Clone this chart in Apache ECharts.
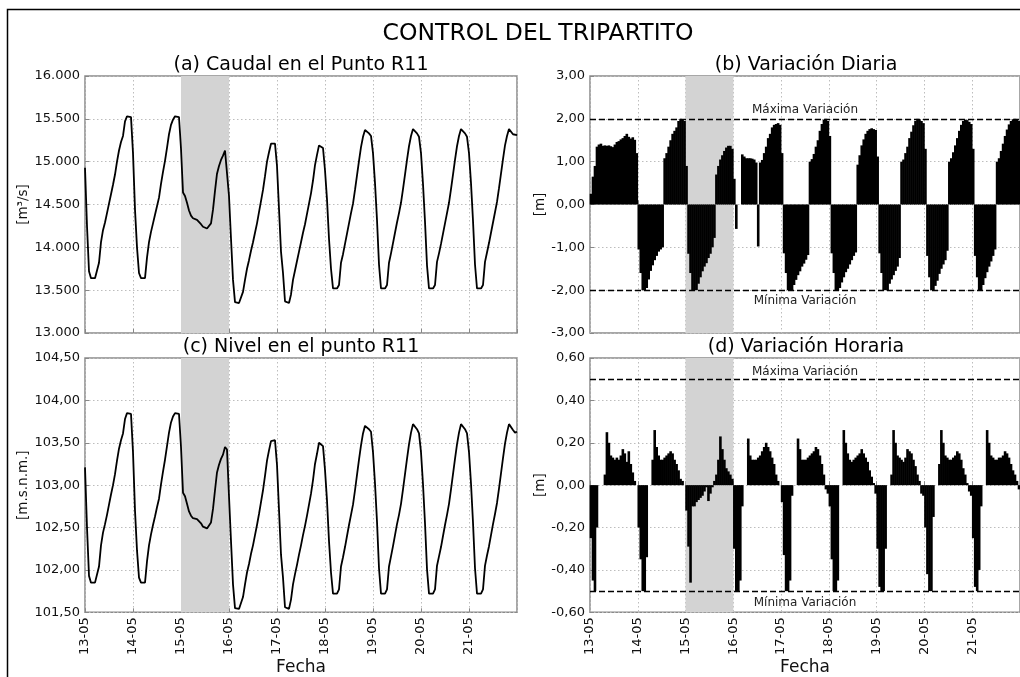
<!DOCTYPE html>
<html><head><meta charset="utf-8">
<script src="https://cdn.jsdelivr.net/npm/echarts@6/dist/echarts.min.js"></script>
<style>html,body{margin:0;padding:0;background:#fff}#c{width:1020px;height:677px}</style>
</head><body><div id="c"></div>
<script>
// ---- data (hourly, from 13-05 00:00) ----
const dayLabels = ['13-05','14-05','15-05','16-05','17-05','18-05','19-05','20-05','21-05'];
const mainTitle = 'CONTROL DEL TRIPARTITO';
const panelTitles = ['(a) Caudal en el Punto R11','(b) Variación Diaria','(c) Nivel en el punto R11','(d) Variación Horaria'];
const shadedDays = [48, 72];

const caudal = [
14930,14250,13720,13640,13640,13640,13640,13820,14060,14200,14290,14400,14510,14620,14730,14850,15000,15130,15230,15300,15470,15530,15530,15520,
15100,14440,14000,13700,13640,13640,13640,13880,14060,14180,14280,14380,14480,14580,14740,14880,15010,15160,15320,15430,15490,15530,15530,15520,
15150,14640,14600,14520,14430,14370,14340,14320,14320,14310,14270,14240,14220,14220,14240,14280,14440,14660,14860,14950,15020,15070,15130,15110,
14600,14100,13620,13360,13350,13350,13350,13480,13620,13750,13850,13960,14060,14170,14280,14410,14540,14670,14830,15000,15110,15210,15220,15210,
14950,14450,13950,13700,13370,13350,13350,13450,13620,13730,13840,13950,14060,14170,14270,14390,14510,14630,14780,14960,15080,15190,15175,15160,
14900,14560,14100,13750,13520,13520,13520,13560,13820,13920,14040,14160,14280,14400,14510,14670,14840,15010,15170,15290,15370,15380,15330,15300,
15100,14750,14320,13800,13520,13520,13520,13560,13820,13930,14050,14170,14290,14400,14520,14680,14850,15020,15180,15300,15380,15370,15330,15290,
15100,14740,14300,13790,13520,13520,13520,13560,13830,13930,14040,14160,14280,14400,14520,14680,14850,15020,15180,15300,15380,15370,15330,15290,
15100,14750,14310,13800,13520,13520,13520,13560,13830,13940,14050,14170,14290,14410,14530,14690,14860,15030,15190,15300,15380,15370,15320,15300,15310
];

const nivel = [
103.21,102.50,101.93,101.85,101.85,101.85,101.85,102.04,102.29,102.44,102.54,102.65,102.77,102.89,103.00,103.13,103.29,103.43,103.53,103.61,103.78,103.85,103.85,103.84,
103.39,102.70,102.23,101.91,101.85,101.85,101.85,102.10,102.29,102.42,102.53,102.63,102.74,102.84,103.01,103.16,103.30,103.46,103.62,103.74,103.81,103.85,103.85,103.84,
103.45,102.91,102.87,102.78,102.69,102.64,102.61,102.60,102.60,102.59,102.55,102.51,102.49,102.49,102.51,102.56,102.72,102.94,103.15,103.24,103.31,103.36,103.45,103.42,
102.87,102.34,101.83,101.55,101.54,101.54,101.54,101.68,101.83,101.97,102.07,102.19,102.29,102.41,102.53,102.66,102.80,102.94,103.11,103.29,103.41,103.52,103.54,103.53,
103.24,102.71,102.18,101.91,101.56,101.54,101.54,101.65,101.83,101.95,102.06,102.18,102.29,102.41,102.52,102.64,102.77,102.90,103.06,103.25,103.37,103.50,103.48,103.46,
103.18,102.82,102.34,101.97,101.72,101.72,101.72,101.77,102.04,102.15,102.27,102.40,102.53,102.65,102.77,102.94,103.12,103.30,103.47,103.61,103.70,103.72,103.66,103.63,
103.39,103.02,102.57,102.02,101.72,101.72,101.72,101.77,102.04,102.16,102.28,102.41,102.54,102.65,102.78,102.95,103.13,103.31,103.48,103.62,103.72,103.70,103.66,103.61,
103.39,103.01,102.55,102.01,101.72,101.72,101.72,101.77,102.05,102.16,102.27,102.40,102.53,102.65,102.78,102.95,103.13,103.31,103.48,103.62,103.72,103.70,103.66,103.61,
103.39,103.02,102.56,102.02,101.72,101.72,101.72,101.77,102.05,102.17,102.28,102.41,102.54,102.66,102.79,102.96,103.14,103.32,103.49,103.62,103.72,103.70,103.65,103.62,103.63
];

const variacionDiaria = [
0.25,0.65,0.9,1.35,1.4,1.42,1.37,1.38,1.37,1.38,1.36,1.34,1.4,1.46,1.48,1.52,1.55,1.6,1.65,1.58,1.54,1.57,1.51,1.2,
-1.05,-1.6,-2.0,-2.0,-1.95,-1.75,-1.55,-1.42,-1.3,-1.2,-1.1,-1.05,-1.0,1.08,1.2,1.35,1.5,1.65,1.72,1.8,1.95,2.0,1.99,1.95,
0.9,-1.15,-1.6,-2.0,-2.0,-2.0,-1.85,-1.7,-1.56,-1.45,-1.37,-1.25,-1.15,-1.0,-0.78,0.7,0.9,1.05,1.15,1.25,1.33,1.37,1.37,1.3,
0.6,-0.57,0,0,1.17,1.12,1.08,1.08,1.08,1.07,1.05,0.98,-0.98,0.98,1.04,1.2,1.35,1.55,1.65,1.8,1.86,1.88,1.9,1.86,
1.2,-1.14,-1.6,-2.0,-2.0,-2.0,-1.88,-1.76,-1.65,-1.56,-1.45,-1.38,-1.29,-1.18,1.0,1.06,1.18,1.35,1.5,1.72,1.88,1.98,2.0,1.95,
1.6,-1.14,-1.6,-2.0,-2.0,-1.95,-1.82,-1.7,-1.58,-1.5,-1.4,-1.3,-1.2,-1.12,0.93,1.15,1.38,1.52,1.65,1.72,1.76,1.78,1.76,1.74,
1.12,-1.14,-1.6,-2.0,-2.0,-2.0,-1.85,-1.75,-1.65,-1.55,-1.45,-1.25,1.0,1.05,1.2,1.35,1.55,1.7,1.85,1.95,2.0,1.99,1.95,1.9,
1.3,-1.2,-1.7,-2.0,-2.0,-1.9,-1.78,-1.62,-1.5,-1.4,-1.3,-1.08,1.0,1.08,1.22,1.38,1.55,1.72,1.86,1.95,1.98,1.97,1.93,1.88,
1.3,-1.2,-1.7,-2.0,-2.0,-1.88,-1.72,-1.58,-1.45,-1.33,-1.2,-1.05,1.0,1.08,1.25,1.42,1.6,1.75,1.87,1.95,1.99,2.0,1.98,1.95
];

const variacionHoraria = [
-0.25,-0.45,-0.5,-0.2,0,0,0,0.05,0.25,0.2,0.14,0.13,0.12,0.13,0.12,0.14,0.17,0.15,0.11,0.16,0.1,0.06,0.02,0,
-0.2,-0.35,-0.5,-0.5,-0.34,0,0,0.12,0.26,0.18,0.14,0.12,0.12,0.13,0.14,0.15,0.16,0.15,0.12,0.1,0.07,0.03,0.02,0,
-0.12,-0.29,-0.46,-0.1,-0.1,-0.08,-0.07,-0.06,-0.05,-0.03,-0.01,-0.075,-0.04,-0.01,0.02,0.05,0.12,0.23,0.17,0.12,0.08,0.065,0.05,0.03,
-0.3,-0.5,-0.5,-0.45,-0.1,0,0,0.22,0.14,0.12,0.12,0.12,0.13,0.14,0.16,0.18,0.2,0.18,0.16,0.13,0.1,0.05,0.02,0,
-0.08,-0.33,-0.5,-0.5,-0.45,-0.05,0,0,0.22,0.17,0.12,0.12,0.12,0.13,0.14,0.15,0.16,0.18,0.17,0.14,0.1,0.05,-0.02,-0.04,
-0.1,-0.35,-0.5,-0.5,-0.45,0,0,0.26,0.2,0.15,0.12,0.11,0.12,0.13,0.14,0.15,0.17,0.15,0.13,0.11,0.07,0.04,0.01,-0.04,
-0.3,-0.48,-0.5,-0.5,-0.3,0,0,0.05,0.26,0.2,0.14,0.13,0.12,0.11,0.13,0.17,0.16,0.15,0.12,0.09,0.05,0.02,-0.04,-0.05,
-0.2,-0.42,-0.5,-0.5,-0.15,0,0,0.1,0.26,0.2,0.14,0.13,0.12,0.12,0.13,0.14,0.16,0.15,0.12,0.08,0.05,0.01,-0.03,-0.05,
-0.25,-0.48,-0.5,-0.4,-0.1,0,0,0.26,0.2,0.14,0.13,0.12,0.12,0.13,0.13,0.14,0.16,0.15,0.13,0.1,0.07,0.05,0.02,-0.02
];
const limDiaria = [2, -2];
const limHoraria = [0.5, -0.5];
const limLabels = ['Máxima Variación', 'Mínima Variación'];

// ---- chart ----
const FONT = 'DejaVu Sans';
const TXT = '#111';
const GRIDC = '#bdbdbd';
const comma2 = v => v.toFixed(2).replace('.', ',');
const thousands = v => (v / 1000).toFixed(3);

function xAx(gi, withLabels) {
  return {
    type: 'value', gridIndex: gi, min: 0, max: 216, interval: 24,
    axisLine: { show: false },
    axisTick: { show: true, inside: true, length: 4, lineStyle: { color: '#888' } },
    splitLine: { show: true, lineStyle: { color: GRIDC, type: [1.5, 2.5], width: 1 } },
    axisLabel: { show: withLabels, rotate: 90, fontSize: 13, color: TXT, margin: 5, showMaxLabel: false,
      formatter: v => dayLabels[Math.round(v / 24)] || '' },
    name: withLabels ? 'Fecha' : '', nameLocation: 'middle', nameGap: 44,
    nameTextStyle: { fontSize: 17, color: TXT }
  };
}
function yAx(gi, min, max, interval, fmt, name, gap) {
  return {
    type: 'value', gridIndex: gi, min, max, interval,
    axisLine: { show: false },
    axisTick: { show: true, inside: true, length: 4, lineStyle: { color: '#888' } },
    splitLine: { show: true, lineStyle: { color: GRIDC, type: [1.5, 2.5], width: 1 } },
    axisLabel: { fontSize: 13, color: TXT, margin: 5, formatter: fmt },
    name, nameLocation: 'middle', nameRotate: 90, nameGap: gap,
    nameTextStyle: { fontSize: 13.5, color: TXT }
  };
}
function band(gi) {
  return { type: 'line', xAxisIndex: gi, yAxisIndex: gi, data: [], z: 1, silent: true,
    markArea: { silent: true, itemStyle: { color: '#d3d3d3' },
      data: [[{ xAxis: shadedDays[0] }, { xAxis: shadedDays[1] }]] } };
}
function limits(gi, lims, dTop, dBot) {
  return { type: 'line', xAxisIndex: gi, yAxisIndex: gi, data: [], z: 5, silent: true,
    markLine: { silent: true, symbol: ['none', 'none'], animation: false,
      lineStyle: { color: '#000', type: [6, 3], width: 1.3 },
      data: [
        { yAxis: lims[0], label: { show: true, formatter: limLabels[0], position: 'insideMiddleTop', distance: dTop, fontSize: 12, color: '#222' } },
        { yAxis: lims[1], label: { show: true, formatter: limLabels[1], position: 'insideMiddleBottom', distance: dBot, fontSize: 12, color: '#222' } }
      ] } };
}
const lineData = arr => arr.map((v, i) => [i, v]);
const barData = arr => arr.map((v, i) => [i + 0.5, v]);

const grids = [
  { left: 85, top: 76, width: 432, height: 257 },
  { left: 590, top: 76, width: 433, height: 257 },
  { left: 85, top: 358, width: 432, height: 257 },
  { left: 590, top: 358, width: 433, height: 257 }
].map(g => Object.assign(g, { show: true, borderColor: '#8a8a8a', borderWidth: 1.5, backgroundColor: 'transparent' }));

const titleText = (t, x, y, size) => ({ type: 'text', x, y, silent: true,
  style: { text: t, fill: '#000', fontSize: size, fontFamily: FONT,
    align: 'center', verticalAlign: 'middle', textAlign: 'center', textVerticalAlign: 'middle' } });

const barStyle = { color: '#000', borderWidth: 0 };

const option = {
  animation: false,
  backgroundColor: '#fff',
  textStyle: { fontFamily: FONT },
  grid: grids,
  xAxis: [xAx(0, false), xAx(1, false), xAx(2, true), xAx(3, true)],
  yAxis: [
    yAx(0, 13000, 16000, 500, thousands, '[m³/s]', 50),
    yAx(1, -3, 3, 1, comma2, '[m]', 42),
    yAx(2, 101.5, 104.5, 0.5, comma2, '[m.s.n.m.]', 50),
    yAx(3, -0.6, 0.6, 0.2, comma2, '[m]', 42)
  ],
  series: [
    band(0), band(1), band(2), band(3),
    { type: 'line', xAxisIndex: 0, yAxisIndex: 0, data: lineData(caudal), showSymbol: false, z: 3,
      lineStyle: { color: '#000', width: 1.8 } },
    { type: 'bar', xAxisIndex: 1, yAxisIndex: 1, data: barData(variacionDiaria), barWidth: 2.6, z: 3,
      itemStyle: barStyle },
    { type: 'line', xAxisIndex: 2, yAxisIndex: 2, data: lineData(nivel), showSymbol: false, z: 3,
      lineStyle: { color: '#000', width: 1.8 } },
    { type: 'bar', xAxisIndex: 3, yAxisIndex: 3, data: barData(variacionHoraria), barWidth: 2.6, z: 3,
      itemStyle: barStyle },
    limits(1, limDiaria, 3, 5),
    limits(3, limHoraria, 1, 6)
  ],
  graphic: [
    { type: 'polyline', silent: true, shape: { points: [[7.5, 677], [7.5, 9.5], [1020, 9.5]] },
      style: { stroke: '#000', lineWidth: 1.5, fill: null } },
    titleText(mainTitle, 538, 34, 23.5),
    titleText(panelTitles[0], 301, 65, 19),
    titleText(panelTitles[1], 806, 65, 19),
    titleText(panelTitles[2], 301, 347.5, 19),
    titleText(panelTitles[3], 806, 347.5, 19)
  ]
};
const chart = echarts.init(document.getElementById('c'), null, { renderer: 'canvas' });
chart.setOption(option);
</script>
</body></html>
